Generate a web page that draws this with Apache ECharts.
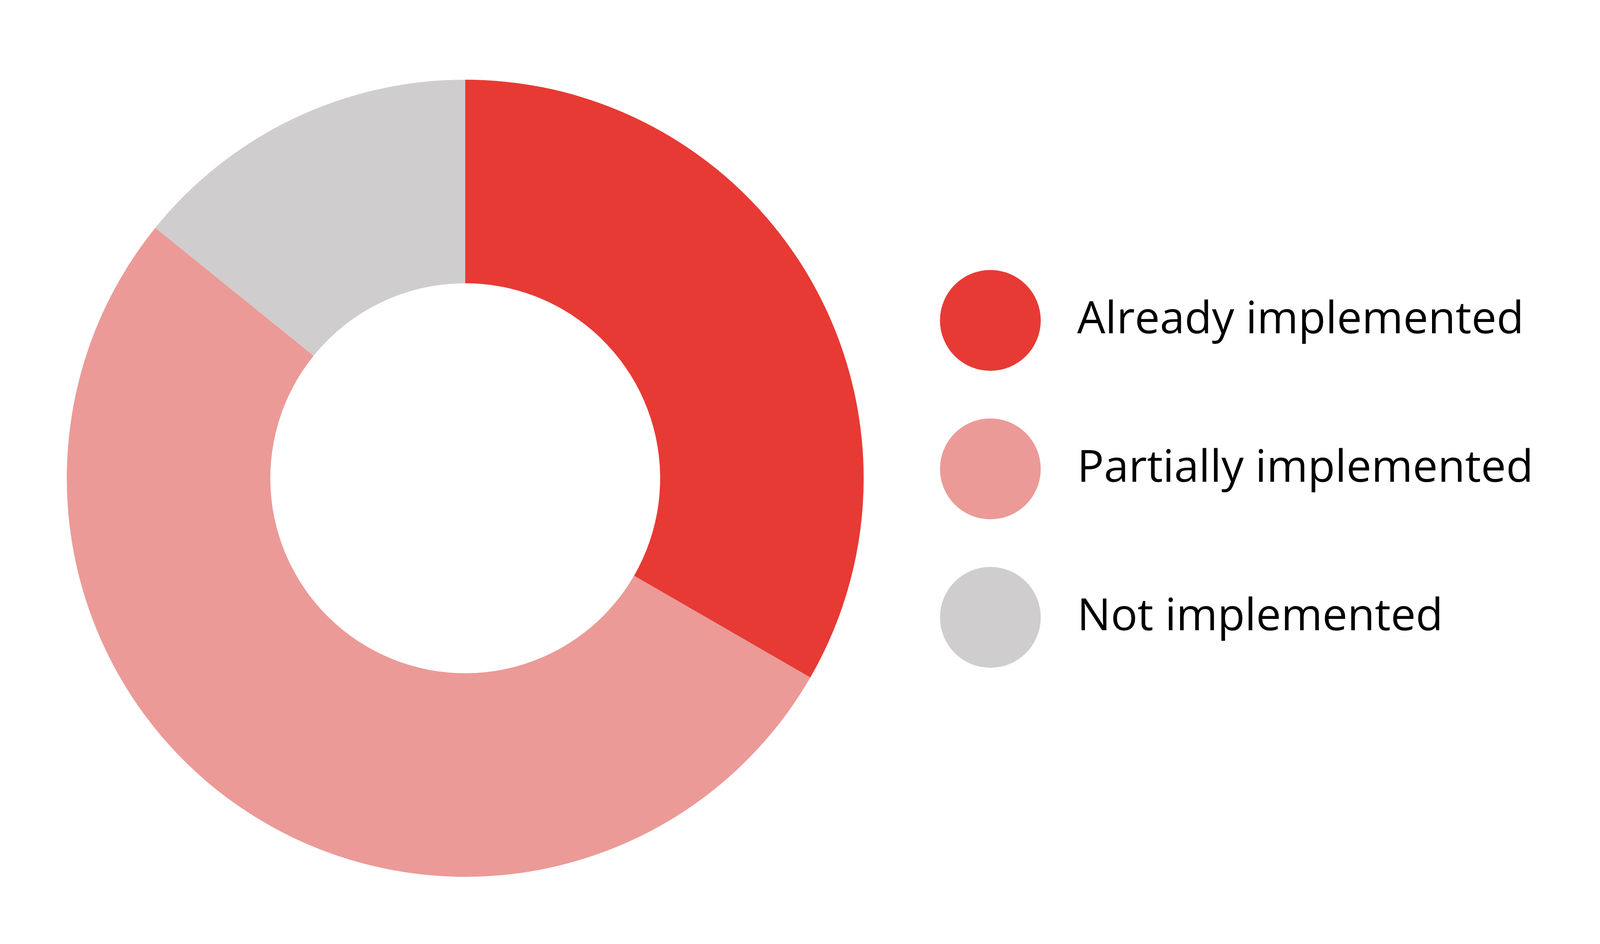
<!DOCTYPE html>
<html>
<head>
<meta charset="utf-8">
<script src="https://cdn.jsdelivr.net/npm/echarts@6/dist/echarts.min.js"></script>
<style>
html,body{margin:0;padding:0;background:#fff;overflow:hidden;}
#chart{width:100vw;height:100vh;}
</style>
</head>
<body>
<div id="chart"></div>
<script>
const categories = ['Already implemented', 'Partially implemented', 'Not implemented'];
const values = [47, 74, 20];
const colors = ['#E73A34', '#EB9A97', '#CFCDCE'];

const el = document.getElementById('chart');
const chart = echarts.init(el, null, {renderer: 'canvas'});
const W = chart.getWidth(), H = chart.getHeight();
const sx = W / 4832, sy = H / 2416;
const sf = Math.sqrt(sx * sy);
const iconR = 129 * sy;
chart.setOption({
  backgroundColor: '#ffffff',
  animation: false,
  legend: {
    orient: 'vertical',
    left: 2985 * sx - iconR,
    top: 815 * sy - iconR,
    icon: 'circle',
    itemWidth: 2 * iconR,
    itemHeight: 2 * iconR,
    itemGap: 380 * sy - 2 * iconR,
    selectedMode: false,
    textStyle: {
      fontFamily: 'Open Sans',
      fontSize: 124 * sf,
      color: '#000000',
      padding: [0, 0, 0, Math.max(0, 3247 * sx - (2985 * sx + iconR) - 5)]
    },
    data: categories
  },
  series: [{
    type: 'pie',
    center: [1405 * sx, 1224 * sy],
    radius: [499 * sy, 1020 * sy],
    startAngle: 90,
    clockwise: true,
    silent: true,
    label: {show: false},
    labelLine: {show: false},
    itemStyle: {borderWidth: 0},
    data: categories.map((name, i) => ({name: name, value: values[i], itemStyle: {color: colors[i]}}))
  }]
});
</script>
</body>
</html>
